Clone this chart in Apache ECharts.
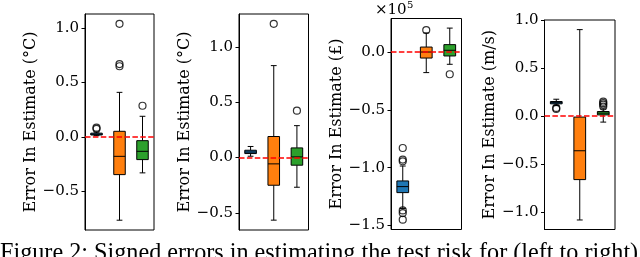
<!DOCTYPE html>
<html>
<head>
<meta charset="utf-8">
<script src="https://cdn.jsdelivr.net/npm/echarts@6/dist/echarts.min.js"></script>
<style>html,body{margin:0;padding:0;background:#fff}#c{width:640px;height:257px}</style>
</head>
<body>
<div id="c"></div>
<script>
// Box positions (x) and colours per method
const positions = [1, 2, 3];
const boxColors = ['#1f77b4', '#ff7f0e', '#2ca02c'];

// Each box: [lower whisker, Q1, median, Q3, upper whisker]
const temp1Boxes = [[0.012, 0.018, 0.025, 0.035, 0.045], [-0.765, -0.346, -0.178, 0.052, 0.41], [-0.33, -0.208, -0.132, -0.034, 0.19]];
const temp1Outliers = [[0.075, 0.085], [1.04, 0.67, 0.65], [0.287]];

const temp2Boxes = [[0.012, 0.036, 0.05, 0.066, 0.10], [-0.565, -0.25, -0.057, 0.19, 0.83], [-0.268, -0.069, 0.006, 0.087, 0.288]];
const temp2Outliers = [[], [1.207], [0.423]];

// values in units of 1e5 (£)
const priceBoxes = [[-1.353, -1.216, -1.164, -1.115, -0.986], [-0.178, -0.052, 0.0, 0.043, 0.165], [-0.106, -0.034, 0.015, 0.064, 0.207]];
const priceOutliers = [[-0.83, -0.93, -0.945, -1.37, -1.393, -1.45], [0.19], [-0.192]];

const windBoxes = [[0.11, 0.128, 0.14, 0.152, 0.176], [-1.08, -0.66, -0.36, -0.01, 0.90], [-0.062, 0.013, 0.031, 0.048, 0.075]];
const windOutliers = [[0.085, 0.075], [], [0.10, 0.12, 0.135, 0.15]];

// Axis ranges and ticks
const temp1Range = [-0.855, 1.13], temp1Ticks = [-0.5, 0.0, 0.5, 1.0];
const temp2Range = [-0.654, 1.296], temp2Ticks = [-0.5, 0.0, 0.5, 1.0];
const priceRange = [-1.535, 0.29], priceTicks = [-1.5, -1.0, -0.5, 0.0];
const windRange = [-1.179, 1.0], windTicks = [-1.0, -0.5, 0.0, 0.5, 1.0];

const axisNames = ['Error In Estimate (°C)', 'Error In Estimate (°C)', 'Error In Estimate (£)', 'Error In Estimate (m/s)'];
const caption = 'Figure 2: Signed errors in estimating the test risk for (left to right)';

const panels = [
  {boxes: temp1Boxes, out: temp1Outliers, range: temp1Range, ticks: temp1Ticks},
  {boxes: temp2Boxes, out: temp2Outliers, range: temp2Range, ticks: temp2Ticks},
  {boxes: priceBoxes, out: priceOutliers, range: priceRange, ticks: priceTicks},
  {boxes: windBoxes, out: windOutliers, range: windRange, ticks: windTicks}
];
const gridPos = [
  {left: 85, top: 14, width: 69, height: 216},
  {left: 239, top: 14, width: 69.5, height: 216},
  {left: 391, top: 18.5, width: 70.5, height: 211},
  {left: 544.5, top: 20, width: 70.5, height: 209.5}
];

const FONT = 'DejaVu Serif';
const CAPFONT = 'Liberation Serif';
const fmt = v => v.toFixed(1).replace('-', '\u2212');

function renderBox(params, api) {
  const x = api.value(0);
  const ci = api.value(6);
  const bw = api.size([0.5, 0])[0];
  const cw = api.size([0.25, 0])[0];
  const pLo = api.coord([x, api.value(1)]);
  const pQ1 = api.coord([x, api.value(2)]);
  const pMed = api.coord([x, api.value(3)]);
  const pQ3 = api.coord([x, api.value(4)]);
  const pHi = api.coord([x, api.value(5)]);
  const cx = pLo[0];
  const ls = {stroke: '#000', lineWidth: 1};
  return {type: 'group', children: [
    {type: 'line', shape: {x1: cx, y1: pQ1[1], x2: cx, y2: pLo[1]}, style: ls},
    {type: 'line', shape: {x1: cx, y1: pQ3[1], x2: cx, y2: pHi[1]}, style: ls},
    {type: 'line', shape: {x1: cx - cw / 2, y1: pLo[1], x2: cx + cw / 2, y2: pLo[1]}, style: ls},
    {type: 'line', shape: {x1: cx - cw / 2, y1: pHi[1], x2: cx + cw / 2, y2: pHi[1]}, style: ls},
    {type: 'rect', shape: {x: cx - bw / 2, y: pQ3[1], width: bw, height: pQ1[1] - pQ3[1]}, style: {fill: boxColors[ci], stroke: '#000', lineWidth: 1}},
    {type: 'line', shape: {x1: cx - bw / 2, y1: pMed[1], x2: cx + bw / 2, y2: pMed[1]}, style: ls}
  ]};
}

const grid = [], xAxis = [], yAxis = [], series = [];
panels.forEach((p, i) => {
  grid.push(Object.assign({show: true, borderColor: '#000', borderWidth: 1}, gridPos[i]));
  xAxis.push({type: 'value', gridIndex: i, min: 0.5, max: 3.5, show: false});
  yAxis.push({
    type: 'value', gridIndex: i, min: p.range[0], max: p.range[1],
    name: axisNames[i], nameLocation: 'middle', nameGap: 46,
    nameTextStyle: {fontFamily: FONT, fontSize: 16, color: '#000'},
    axisLine: {show: true, lineStyle: {color: '#000', width: 1}},
    axisTick: {show: true, inside: false, length: 3.5, lineStyle: {color: '#000'}, customValues: p.ticks},
    axisLabel: {fontFamily: FONT, fontSize: 15, color: '#000', margin: 6, customValues: p.ticks, formatter: fmt},
    splitLine: {show: false}
  });
  series.push({
    type: 'custom', xAxisIndex: i, yAxisIndex: i, renderItem: renderBox,
    encode: {x: 0, y: [1, 2, 3, 4, 5]},
    data: p.boxes.map((b, k) => [positions[k], ...b, k]), z: 2
  });
  const pts = [];
  p.out.forEach((arr, k) => arr.forEach(v => pts.push([positions[k], v])));
  series.push({
    type: 'scatter', xAxisIndex: i, yAxisIndex: i, data: pts, symbol: 'circle', symbolSize: 7,
    itemStyle: {color: 'rgba(0,0,0,0)', borderColor: '#000', borderWidth: 1.2}, z: 3,
    markLine: {silent: true, symbol: 'none', label: {show: false}, z: 5,
      lineStyle: {color: '#ff0000', type: [5.5, 2.4], width: 1.5},
      data: [{yAxis: 0}]}
  });
});

const chart = echarts.init(document.getElementById('c'), null, {renderer: 'canvas'});
chart.setOption({
  animation: false,
  backgroundColor: '#fff',
  grid, xAxis, yAxis, series,
  graphic: [
    {type: 'text', left: 375, top: 3, style: {text: '\u00d710', fontFamily: FONT, fontSize: 15, fill: '#000'}},
    {type: 'text', left: 407, top: 0, style: {text: '5', fontFamily: FONT, fontSize: 10, fill: '#000'}},
    {type: 'text', left: 0, top: 242, style: {text: caption, fontFamily: CAPFONT, fontSize: 24.2, fill: '#000'}}
  ]
});
</script>
</body>
</html>
